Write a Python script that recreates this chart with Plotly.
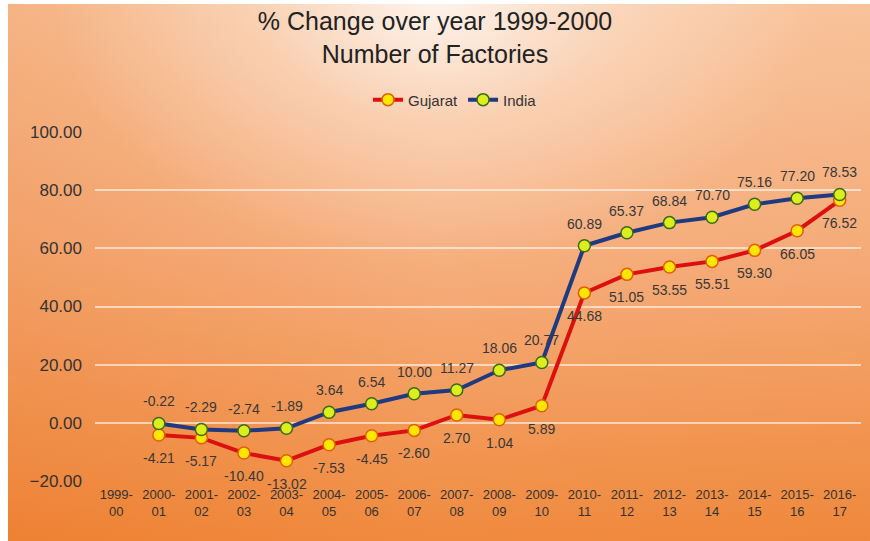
import base64
import plotly.graph_objects as go

# ---------------- data ----------------
categories = ["1999-<br>00", "2000-<br>01", "2001-<br>02", "2002-<br>03", "2003-<br>04",
              "2004-<br>05", "2005-<br>06", "2006-<br>07", "2007-<br>08", "2008-<br>09",
              "2009-<br>10", "2010-<br>11", "2011-<br>12", "2012-<br>13", "2013-<br>14",
              "2014-<br>15", "2015-<br>16", "2016-<br>17"]
gujarat = [None, -4.21, -5.17, -10.40, -13.02, -7.53, -4.45, -2.60, 2.70, 1.04, 5.89,
           44.68, 51.05, 53.55, 55.51, 59.30, 66.05, 76.52]
india = [None, -0.22, -2.29, -2.74, -1.89, 3.64, 6.54, 10.00, 11.27, 18.06, 20.77,
         60.89, 65.37, 68.84, 70.70, 75.16, 77.20, 78.53]
y_ticks = [-20, 0, 20, 40, 60, 80, 100]

W, H = 870, 541
ML, MR, MT, MB = 95, 9, 132, 60
FONT = "Liberation Sans, Arial, sans-serif"
LABEL_COLOR = "#383838"

# ---------------- background (gradient image) ----------------
svg = f"""<svg xmlns='http://www.w3.org/2000/svg' width='{W}' height='{H}' viewBox='0 0 {W} {H}'>
<defs>
<linearGradient id='lg' x1='0' y1='0' x2='0' y2='1'>
<stop offset='0' stop-color='#f9c9a4'/>
<stop offset='0.45' stop-color='#f6b080'/>
<stop offset='1' stop-color='#f08a3e'/>
</linearGradient>
<linearGradient id='hg' x1='0' y1='0' x2='1' y2='0'>
<stop offset='0' stop-color='#e46008' stop-opacity='0.2'/>
<stop offset='0.5' stop-color='#e46008' stop-opacity='0'/>
<stop offset='1' stop-color='#e46008' stop-opacity='0.06'/>
</linearGradient>
<radialGradient id='rg' gradientUnits='userSpaceOnUse' cx='435' cy='0' r='380'
 gradientTransform='translate(435 0) scale(1 0.7) translate(-435 0)'>
<stop offset='0' stop-color='#ffffff' stop-opacity='0.78'/>
<stop offset='0.45' stop-color='#ffffff' stop-opacity='0.3'/>
<stop offset='1' stop-color='#ffffff' stop-opacity='0'/>
</radialGradient>
</defs>
<rect x='0' y='0' width='{W}' height='{H}' fill='#ffffff'/>
<rect x='8' y='4' width='{W-8}' height='{H-4}' fill='url(#lg)'/>
<rect x='8' y='4' width='{W-8}' height='{H-4}' fill='url(#hg)'/>
<rect x='8' y='4' width='{W-8}' height='{H-4}' fill='url(#rg)'/>
</svg>"""
bg_src = "data:image/svg+xml;base64," + base64.b64encode(svg.encode()).decode()

pw, ph = W - ML - MR, H - MT - MB

fig = go.Figure()

fig.add_trace(go.Scatter(
    x=categories, y=gujarat, name="Gujarat", mode="lines+markers",
    line=dict(color="#dd1010", width=4),
    marker=dict(size=12, color="#ffe600", line=dict(color="#e0600a", width=1.5)),
    connectgaps=False,
))
fig.add_trace(go.Scatter(
    x=categories, y=india, name="India", mode="lines+markers",
    line=dict(color="#1f3a80", width=4),
    marker=dict(size=12, color="#dcef1c", line=dict(color="#3b6a1a", width=1.5)),
    connectgaps=False,
))

annotations = []
for c, v in zip(categories, gujarat):
    if v is None:
        continue
    annotations.append(dict(x=c, y=v, xref="x", yref="y", text=f"{v:.2f}",
                            showarrow=False, yshift=-23,
                            font=dict(family=FONT, size=14, color=LABEL_COLOR)))
for c, v in zip(categories, india):
    if v is None:
        continue
    annotations.append(dict(x=c, y=v, xref="x", yref="y", text=f"{v:.2f}",
                            showarrow=False, yshift=22,
                            font=dict(family=FONT, size=14, color=LABEL_COLOR)))

fig.update_layout(
    width=W, height=H,
    margin=dict(l=ML, r=MR, t=MT, b=MB, pad=0),
    paper_bgcolor="rgba(0,0,0,0)",
    plot_bgcolor="rgba(0,0,0,0)",
    font=dict(family=FONT, color="#333333"),
    title=dict(text="% Change over year 1999-2000<br>Number of Factories",
               x=0.5, xanchor="center", y=1 - 30 / H, yanchor="middle",
               font=dict(family=FONT, size=25, color="#222222")),
    showlegend=True,
    legend=dict(orientation="h", x=0.47, xanchor="center", y=1.092, yanchor="middle",
                font=dict(family=FONT, size=15, color="#333333"),
                bgcolor="rgba(0,0,0,0)", itemwidth=30, tracegroupgap=0),
    images=[dict(source=bg_src, xref="paper", yref="paper",
                 x=-ML / pw, y=1 + MT / ph, sizex=W / pw, sizey=H / ph,
                 xanchor="left", yanchor="top", sizing="stretch", layer="below")],
    annotations=annotations,
)

fig.update_xaxes(type="category", categoryorder="array", categoryarray=categories,
                 range=[-0.5, len(categories) - 0.5], showgrid=False, zeroline=False,
                 showline=False, ticks="", ticklabelstandoff=4,
                 tickfont=dict(family=FONT, size=13, color="#333333"))
fig.update_yaxes(range=[-20, 100], tickvals=y_ticks, tickformat=".2f",
                 showgrid=True, gridcolor="rgba(255,245,235,0.65)", gridwidth=2,
                 zeroline=False, showline=False, ticks="", ticklabelstandoff=12,
                 tickfont=dict(family=FONT, size=17, color="#333333"))

fig.write_html("out.html")
